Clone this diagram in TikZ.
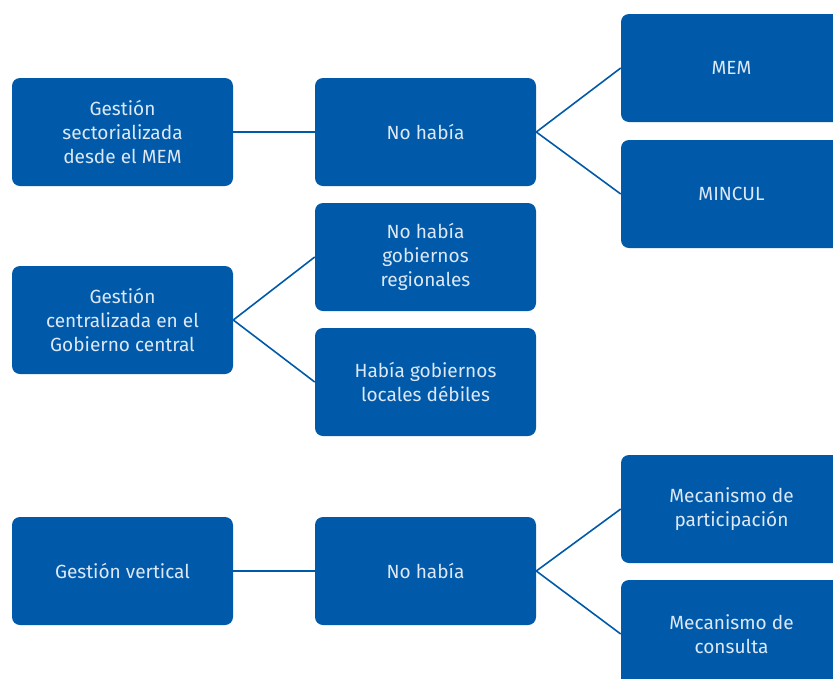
\documentclass[tikz,border=0pt]{standalone}
\usepackage{fontspec}
\setmainfont{Fira Sans}
\usepackage{xcolor}
\definecolor{boxblue}{HTML}{0059A9}
\definecolor{boxtext}{HTML}{DCE8F5}

\begin{document}
\begin{tikzpicture}[x=0.75pt, y=-0.75pt]
\tikzset{box/.style = {shape=rectangle, rounded corners=6pt, fill=boxblue, text=boxtext,
  minimum width=221*0.75pt, minimum height=108*0.75pt, align=center,
  font=\fontsize{14.3}{18}\selectfont, inner sep=0pt}}
\tikzset{edge/.style = {draw=boxblue, line width=1.2pt}}

\clip (0,0) rectangle (833,679);
\useasboundingbox (0,0) rectangle (833,679);

\node[box] (A) at (122.5,132) {Gestión\\sectorializada\\desde el MEM};
\node[box] (B) at (122.5,320) {Gestión\\centralizada en el\\Gobierno central};
\node[box] (C) at (122.5,571) {Gestión vertical};

\node[box] (A1) at (425.5,132) {No había};
\node[box] (B1) at (425.5,257) {No había\\gobiernos\\regionales};
\node[box] (B2) at (425.5,382) {Había gobiernos\\locales débiles};
\node[box] (C1) at (425.5,571) {No había};

\node[box] (A11) at (731.5,68)  {MEM};
\node[box] (A12) at (731.5,194) {MINCUL};
\node[box] (C11) at (731.5,509) {Mecanismo de\\participación};
\node[box] (C12) at (731.5,634) {Mecanismo de\\consulta};

%edges
\draw[edge] (A.east) -- (A1.west);
\draw[edge] (A1.east) -- (A11.west);
\draw[edge] (A1.east) -- (A12.west);
\draw[edge] (B.east) -- (B1.west);
\draw[edge] (B.east) -- (B2.west);
\draw[edge] (C.east) -- (C1.west);
\draw[edge] (C1.east) -- (C11.west);
\draw[edge] (C1.east) -- (C12.west);

\end{tikzpicture}
\end{document}
